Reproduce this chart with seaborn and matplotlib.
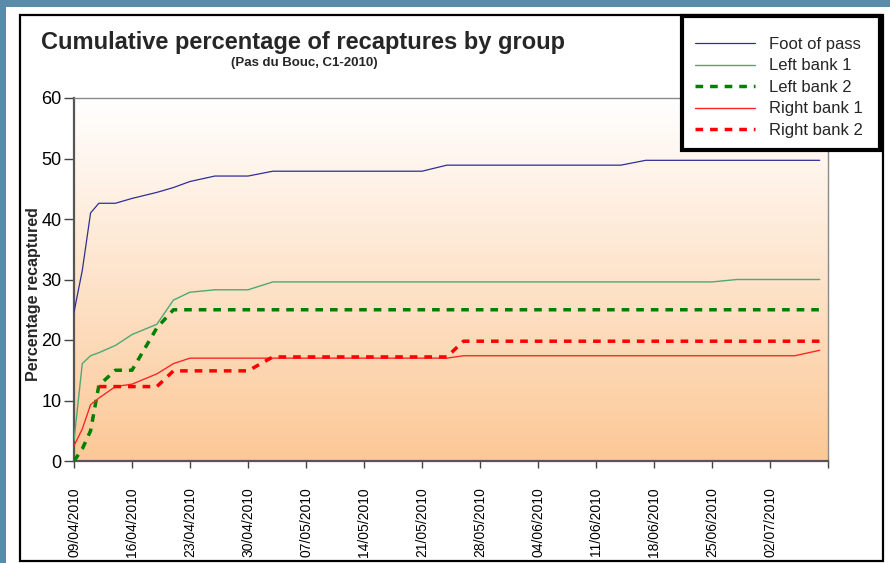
import numpy as np
import pandas as pd
import matplotlib
matplotlib.use("Agg")
import matplotlib.pyplot as plt
from matplotlib.patches import Rectangle
import seaborn as sns

# recapture dates and cumulative percentages per group
dates = ["09/04/2010", "10/04/2010", "11/04/2010", "12/04/2010", "14/04/2010",
         "16/04/2010", "19/04/2010", "21/04/2010", "23/04/2010", "26/04/2010",
         "30/04/2010", "03/05/2010", "21/05/2010", "24/05/2010", "26/05/2010",
         "14/06/2010", "17/06/2010", "25/06/2010", "28/06/2010", "05/07/2010",
         "08/07/2010"]
foot_of_pass = [24.6, 31.5, 41.0, 42.6, 42.6, 43.4, 44.4, 45.2, 46.2, 47.1, 47.1,
                47.9, 47.9, 48.9, 48.9, 48.9, 49.7, 49.7, 49.7, 49.7, 49.7]
left_bank_1 = [3.4, 16.1, 17.4, 17.9, 19.1, 20.9, 22.6, 26.6, 27.9, 28.3, 28.3,
               29.6, 29.6, 29.6, 29.6, 29.6, 29.6, 29.6, 30.0, 30.0, 30.0]
left_bank_2 = [0.0, 2.0, 5.0, 12.5, 15.0, 15.0, 22.0, 25.0, 25.0, 25.0, 25.0,
               25.0, 25.0, 25.0, 25.0, 25.0, 25.0, 25.0, 25.0, 25.0, 25.0]
right_bank_1 = [2.5, 5.3, 9.3, 10.4, 12.3, 12.7, 14.4, 16.1, 17.0, 17.0, 17.0,
                17.0, 17.0, 17.0, 17.4, 17.4, 17.4, 17.4, 17.4, 17.4, 18.3]
right_bank_2 = [np.nan, np.nan, np.nan, 12.3, 12.3, 12.3, 12.3, 14.9, 14.9, 14.9, 14.9,
                17.2, 17.2, 17.2, 19.8, 19.8, 19.8, 19.8, 19.8, 19.8, 19.8]

series = {
    "Foot of pass": foot_of_pass,
    "Left bank 1": left_bank_1,
    "Left bank 2": left_bank_2,
    "Right bank 1": right_bank_1,
    "Right bank 2": right_bank_2,
}
styles = {
    "Foot of pass": dict(color="#2e2e96", lw=0.9, ls="-"),
    "Left bank 1": dict(color="#4fa872", lw=1.0, ls="-"),
    "Left bank 2": dict(color="#008000", lw=2.5, ls=(0, (2.2, 2.0))),
    "Right bank 1": dict(color="#ff2626", lw=1.0, ls="-"),
    "Right bank 2": dict(color="#ff0000", lw=2.5, ls=(0, (2.2, 2.0))),
}

x = pd.to_datetime(dates, format="%d/%m/%Y")

sns.set_style("white")
plt.rcParams["font.family"] = ["Liberation Sans", "DejaVu Sans"]

fig = plt.figure(figsize=(8.9, 5.63), dpi=100)
fig.patch.set_facecolor("#5b8bab")
W, H = 890, 563

# white panel and black frame
fig.add_artist(Rectangle((6 / W, 0), 1, 1 - 7 / H, transform=fig.transFigure,
                         facecolor="white", edgecolor="none", zorder=0))
fig.add_artist(Rectangle((20 / W, 2 / H), (883 - 20) / W, (561 - 15) / H,
                         transform=fig.transFigure, facecolor="none",
                         edgecolor="black", lw=1.6, zorder=1))

ax = fig.add_axes([74 / W, 1 - 461 / H, (828 - 74) / W, (461 - 98) / H])
ax.set_facecolor("white")

# orange gradient plot area
grad = np.linspace(0, 1, 256).reshape(-1, 1)
top = np.array([255, 255, 255]) / 255
bottom = np.array([252, 200, 150]) / 255
img = top + (bottom - top) * grad[:, :, None]
ax.imshow(img, extent=(0, 1, 0, 1), transform=ax.transAxes, aspect="auto",
          zorder=0, interpolation="bilinear")

for name, vals in series.items():
    st = styles[name]
    sns.lineplot(x=x, y=vals, ax=ax, label=name, color=st["color"],
                 linewidth=st["lw"], linestyle=st["ls"], estimator=None, zorder=3)

ax.set_xlim(pd.Timestamp("2010-04-09"), pd.Timestamp("2010-07-09"))
ax.set_ylim(0, 60)
ax.set_yticks(range(0, 61, 10))
ticks = pd.date_range("2010-04-09", "2010-07-09", freq="7D")
ax.set_xticks(ticks)
ax.set_xticklabels([t.strftime("%d/%m/%Y") for t in ticks[:-1]] + [""],
                   rotation=90, fontsize=10, va="top", ha="center")
ax.tick_params(axis="x", direction="out", length=5, width=1, pad=14, colors="#444",
               labelcolor="black", bottom=True)
ax.tick_params(axis="y", direction="out", length=7, width=1, labelsize=13, pad=2,
               colors="#444", labelcolor="black", left=True)
ax.set_xlabel("")
ax.set_ylabel("Percentage recaptured", fontsize=11.5, fontweight="bold")
ax.yaxis.set_label_coords(-0.044, 0.461)

for s in ["top", "right"]:
    ax.spines[s].set_color("#8a8a8a")
    ax.spines[s].set_linewidth(1.0)
for s in ["left", "bottom"]:
    ax.spines[s].set_color("#555555")
    ax.spines[s].set_linewidth(1.6)

ax.get_legend().remove()
handles, labels = ax.get_legend_handles_labels()
leg = fig.legend(handles, labels, loc="upper left",
                 bbox_to_anchor=(695 / W, 1 - 37 / H), fontsize=12,
                 frameon=False, handlelength=3.6, handletextpad=0.85,
                 labelspacing=0.39, borderpad=0, borderaxespad=0)
leg.set_zorder(11)
# legend box with heavy border
fig.add_artist(Rectangle((682 / W, 1 - 150 / H), (880 - 682) / W, (150 - 16) / H,
                         transform=fig.transFigure, facecolor="white",
                         edgecolor="black", lw=3, zorder=10))

fig.text(303 / W, 1 - 42 / H, "Cumulative percentage of recaptures by group",
         ha="center", va="center", fontsize=17, fontweight="bold")
fig.text(304 / W, 1 - 63 / H, "(Pas du Bouc, C1-2010)", ha="center", va="center",
         fontsize=9.5, fontweight="bold")

fig.savefig("out.png", dpi=100, facecolor=fig.get_facecolor())
